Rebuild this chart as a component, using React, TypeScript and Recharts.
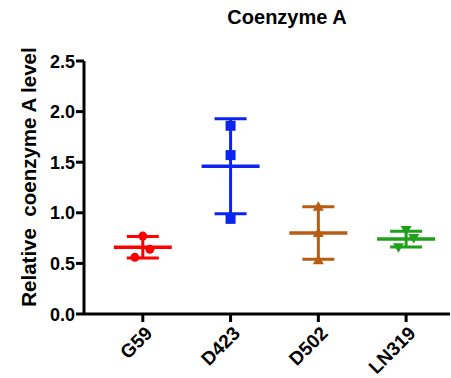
import React from 'react';
import { ComposedChart, Scatter, XAxis, YAxis, ErrorBar } from 'recharts';

const categories = ['G59', 'D423', 'D502', 'LN319'];
const yTicks = [0, 0.5, 1.0, 1.5, 2.0, 2.5];

// individual replicate values per group
const g59Values = [0.77, 0.64, 0.56];
const d423Values = [1.86, 1.57, 0.94];
const d502Values = [1.06, 0.80, 0.53];
const ln319Values = [0.83, 0.75, 0.66];

// horizontal scatter offsets (category units)
const g59Jitter = [0, 0.08, -0.09];
const d423Jitter = [0, 0, 0];
const d502Jitter = [0, 0, 0];
const ln319Jitter = [0, 0.087, -0.087];

// group means and SD
const means = [0.66, 1.46, 0.80, 0.74];
const sds = [0.107, 0.47, 0.26, 0.078];

const colors = ['#FF0000', '#0B24F0', '#B85C12', '#1FA01A'];
const markers = ['circle', 'square', 'triangleUp', 'triangleDown'];

const groupValues = [g59Values, d423Values, d502Values, ln319Values];
const groupJitter = [g59Jitter, d423Jitter, d502Jitter, ln319Jitter];

const FONT = 'Liberation Sans, Arial, sans-serif';

function makeMarker(kind: string, color: string) {
  return (props: any) => {
    const { cx, cy } = props;
    if (cx == null || cy == null) return <g />;
    if (kind === 'circle') return <circle cx={cx} cy={cy} r={4.5} fill={color} />;
    if (kind === 'square') return <rect x={cx - 5} y={cy - 5} width={10} height={10} fill={color} />;
    if (kind === 'triangleUp')
      return <polygon points={`${cx},${cy - 5.5} ${cx + 5.5},${cy + 4} ${cx - 5.5},${cy + 4}`} fill={color} />;
    return <polygon points={`${cx},${cy + 5.5} ${cx + 5.5},${cy - 4} ${cx - 5.5},${cy - 4}`} fill={color} />;
  };
}

function makeMeanLine(color: string) {
  return (props: any) => {
    const { cx, cy } = props;
    if (cx == null || cy == null) return <g />;
    return <line x1={cx - 29} x2={cx + 29} y1={cy} y2={cy} stroke={color} strokeWidth={3.5} />;
  };
}

const XTick = (props: any) => {
  const { x, y, payload } = props;
  return (
    <g transform={`translate(${x},${y})`}>
      <text
        x={0}
        y={0}
        dy={15}
        dx={0}
        textAnchor="end"
        transform="rotate(-45)"
        fontFamily={FONT}
        fontWeight="bold"
        fontSize={19}
        fill="#000"
      >
        {categories[payload.value]}
      </text>
    </g>
  );
};

const YTick = (props: any) => {
  const { x, y, payload } = props;
  return (
    <text x={x + 1} y={y} dy={6.5} textAnchor="end" fontFamily={FONT} fontWeight="bold" fontSize={18} fill="#000">
      {Number(payload.value).toFixed(1)}
    </text>
  );
};

export default function App() {
  const series: any[] = [];
  categories.forEach((c, i) => {
    const pts = groupValues[i].map((v, k) => ({ x: i + groupJitter[i][k], y: v }));
    series.push(
      <Scatter
        key={`pts-${c}`}
        data={pts}
        dataKey="y"
        isAnimationActive={false}
        shape={makeMarker(markers[i], colors[i])}
      />
    );
    series.push(
      <Scatter
        key={`mean-${c}`}
        data={[{ x: i, y: means[i], err: sds[i] }]}
        dataKey="y"
        isAnimationActive={false}
        shape={makeMeanLine(colors[i])}
      >
        <ErrorBar dataKey="err" direction="y" width={16} stroke={colors[i]} strokeWidth={3} isAnimationActive={false} />
      </Scatter>
    );
  });

  return (
    <div style={{ position: 'absolute', left: 0, top: 0, width: 451, height: 378, background: '#fff' }}>
      <div
        style={{
          position: 'absolute',
          left: 0,
          width: 451,
          top: 6,
          textAlign: 'center',
          paddingLeft: 123,
          boxSizing: 'border-box',
          fontFamily: FONT,
          fontWeight: 'bold',
          fontSize: 20,
          color: '#000',
        }}
      >
        Coenzyme A
      </div>
      <ComposedChart width={451} height={378} margin={{ top: 61, right: 1, bottom: 0, left: 24 }}>
        <XAxis
          type="number"
          dataKey="x"
          domain={[-0.67, 3.5]}
          ticks={[0, 1, 2, 3]}
          allowDataOverflow
          height={64}
          axisLine={{ stroke: '#000', strokeWidth: 3 }}
          tickLine={{ stroke: '#000', strokeWidth: 3 }}
          tickSize={8}
          tick={<XTick />}
          interval={0}
        />
        <YAxis
          type="number"
          domain={[0, 2.5]}
          ticks={yTicks}
          allowDataOverflow
          width={60}
          axisLine={{ stroke: '#000', strokeWidth: 3 }}
          tickLine={{ stroke: '#000', strokeWidth: 3 }}
          tickSize={8}
          tick={<YTick />}
          interval={0}
          label={{
            content: () => (
              <text
                x={36}
                y={177}
                transform="rotate(-90, 36, 177)"
                textAnchor="middle"
                fontFamily={FONT}
                fontWeight="bold"
                fontSize={20.5}
                fill="#000"
                style={{ whiteSpace: 'pre' }}
              >
                {'Relative  coenzyme A level'}
              </text>
            ),
          }}
        />
        {series}
      </ComposedChart>
    </div>
  );
}
